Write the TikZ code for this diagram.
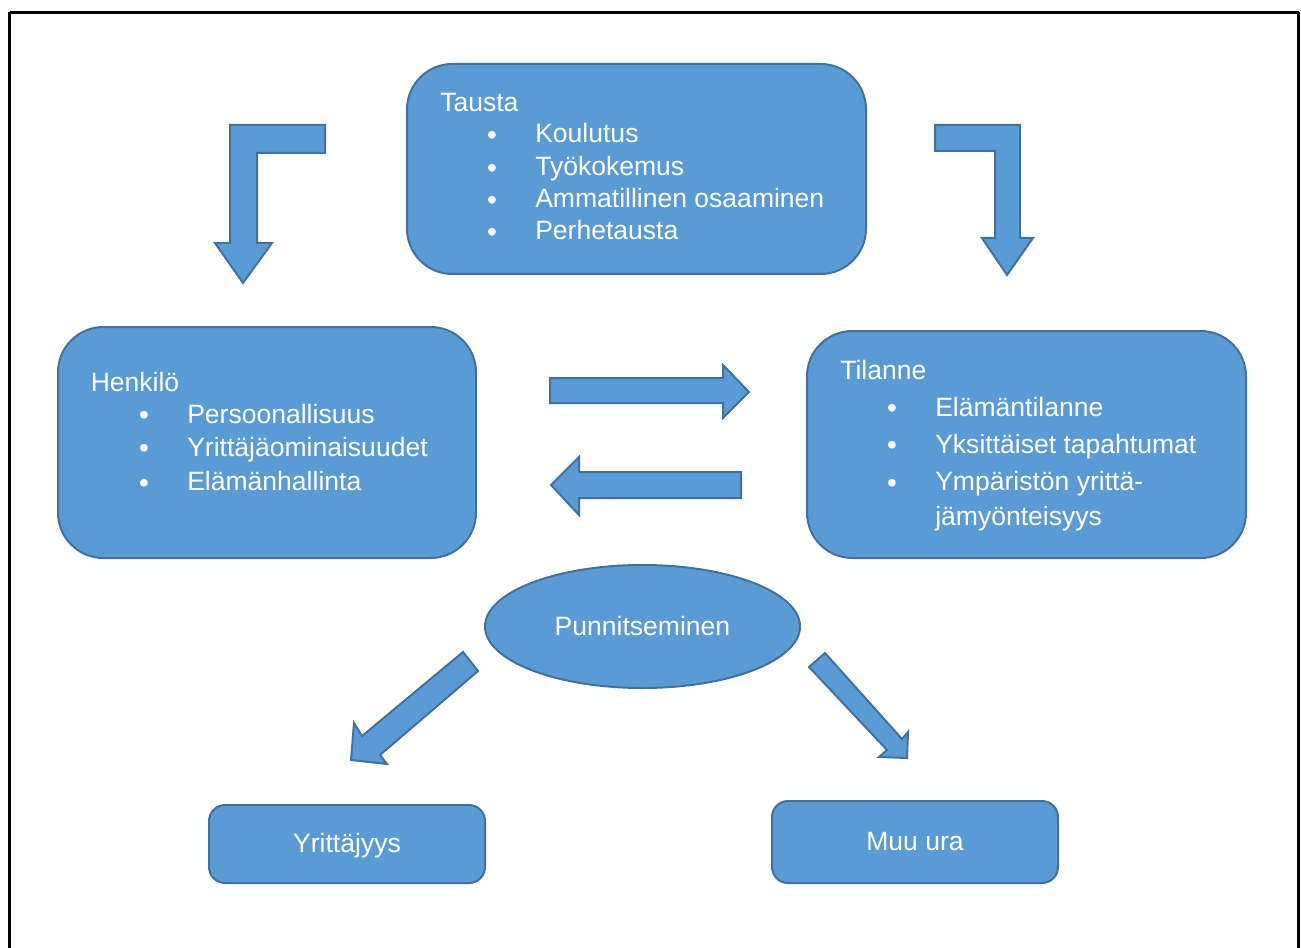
\documentclass[tikz,border=0pt]{standalone}
\usepackage{fontspec}
\setmainfont{Liberation Sans}
\usetikzlibrary{shapes.geometric}
\definecolor{boxfill}{HTML}{5B9BD5}
\definecolor{boxline}{HTML}{41719C}
\begin{document}
\begin{tikzpicture}[x=0.75pt,y=-0.75pt,
  shapebox/.style={draw=boxline,fill=boxfill,line width=1.5pt,inner sep=0pt},
  blockarrow/.style={draw=boxline,fill=boxfill,line width=1.5pt,line join=miter},
  txt/.style={text=white,font=\fontsize{19.9}{24}\selectfont,inner sep=0pt,anchor=base west},
  ctxt/.style={text=white,font=\fontsize{19.9}{24}\selectfont,inner sep=0pt,anchor=base},
  bul/.style={text=white,font=\fontsize{21}{24}\selectfont,inner sep=0pt,anchor=base,yshift=-1.4pt}]
\useasboundingbox (0,0) rectangle (1301,948);
% outer frame
\draw[line width=1.8pt,black] (9.5,12.5) -- (1298.5,12.5) (9.5,12.5) -- (9.5,960) (1298.5,12.5) -- (1298.5,960);

% boxes
\draw[shapebox,rounded corners=34] (407,64) rectangle (866,274);
\node (tausta) at (636.5,169) {};
\draw[shapebox,rounded corners=34] (58,327) rectangle (476,558);
\node (henkilo) at (267,442) {};
\draw[shapebox,rounded corners=34] (807,331) rectangle (1246,558);
\node (tilanne) at (1026.5,444.5) {};
\node[shapebox,ellipse,minimum width=315*0.75pt,minimum height=123*0.75pt] (punn) at (642.5,626.5) {};
\draw[shapebox,rounded corners=12] (209,805) rectangle (485,883);
\node (yritt) at (347,844) {};
\draw[shapebox,rounded corners=12] (772,801) rectangle (1058,883);
\node (muu) at (915,842) {};

% Tausta text
\node[txt] (t0) at (440,112) {Tausta};
\node[bul] (tb1) at (492,143) {•};
\node[txt] (t1) at (535,143) {Koulutus};
\node[bul] (tb2) at (492,175.5) {•};
\node[txt] (t2) at (535,175.5) {Työkokemus};
\node[bul] (tb3) at (492,207.5) {•};
\node[txt] (t3) at (535,207.5) {Ammatillinen osaaminen};
\node[bul] (tb4) at (492,240) {•};
\node[txt] (t4) at (535,240) {Perhetausta};

% Henkilo text
\node[txt] (h0) at (90.5,391) {Henkilö};
\node[bul] (hb1) at (144,423) {•};
\node[txt] (h1) at (187,423) {Persoonallisuus};
\node[bul] (hb2) at (144,456) {•};
\node[txt] (h2) at (187,456) {Yrittäjäominaisuudet};
\node[bul] (hb3) at (144,490.5) {•};
\node[txt] (h3) at (187,490.5) {Elämänhallinta};

% Tilanne text
\node[txt] (s0) at (840,379) {Tilanne};
\node[bul] (sb1) at (892,416) {•};
\node[txt] (s1) at (935,416) {Elämäntilanne};
\node[bul] (sb2) at (892,453) {•};
\node[txt] (s2) at (935,453) {Yksittäiset tapahtumat};
\node[bul] (sb3) at (892,490.5) {•};
\node[txt] (s3) at (935,490.5) {Ympäristön yrittä-};
\node[txt] (s4) at (935,525) {jämyönteisyys};

% other labels
\node[ctxt] (p0) at (642.5,635) {Punnitseminen};
\node[ctxt] (y0) at (347,852) {Yrittäjyys};
\node[ctxt] (m0) at (915,850) {Muu ura};

% block arrows
\draw[blockarrow] (325,125) -- (230,125) -- (230,243) -- (215,243) -- (243,283) -- (272,243) -- (257,243) -- (257,153) -- (325,153) -- cycle;
\draw[blockarrow] (935,125) -- (1020,125) -- (1020,238) -- (1033,238) -- (1007,275) -- (982,238) -- (995,238) -- (995,151) -- (935,151) -- cycle;
\draw[blockarrow] (550,378) -- (723,378) -- (723,365) -- (749,392) -- (723,418) -- (723,403) -- (550,403) -- cycle;
\draw[blockarrow] (741,472) -- (579,472) -- (579,457) -- (551,485) -- (579,515) -- (579,498) -- (741,498) -- cycle;
\draw[blockarrow] (463,652) -- (478,671) -- (380,755) -- (387,764) -- (351,760) -- (354,723) -- (362,736) -- cycle;
\draw[blockarrow] (825,653) -- (902,739) -- (908,732) -- (907,758) -- (879,757) -- (887,750) -- (809,667) -- cycle;
\end{tikzpicture}
\end{document}
